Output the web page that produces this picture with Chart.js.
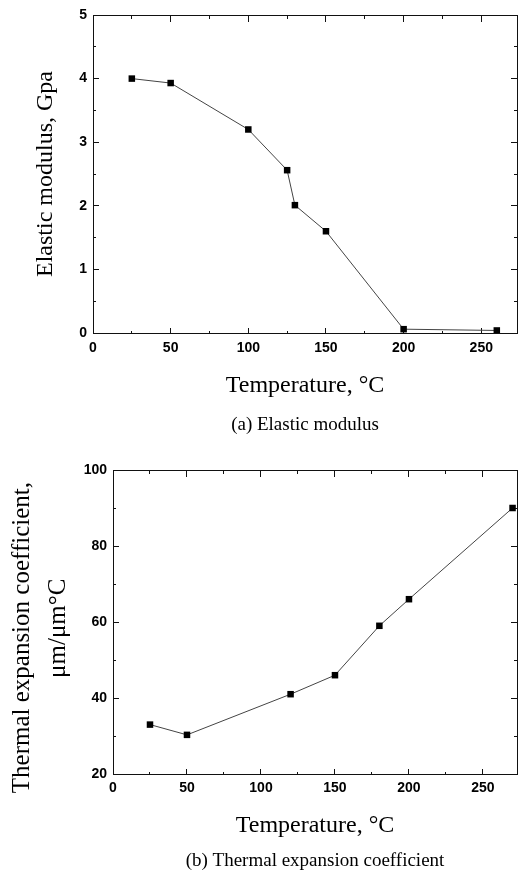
<!DOCTYPE html>
<html>
<head>
<meta charset="utf-8">
<script src="https://cdn.jsdelivr.net/npm/chart.js@4/dist/chart.umd.min.js"></script>
<style>
    html, body { margin: 0; padding: 0; background: #fff; }
    canvas { display: block; }
</style>
</head>
<body>
<canvas id="modulusChart" width="518" height="445"></canvas>
<canvas id="expansionChart" width="518" height="427"></canvas>
<script>
// (a) Elastic modulus vs temperature
const modulusTemps = [25, 50, 100, 125, 130, 150, 200, 260];
const modulusValues = [4.0, 3.93, 3.2, 2.56, 2.01, 1.6, 0.06, 0.04];

// (b) Thermal expansion coefficient vs temperature
const expansionTemps = [25, 50, 120, 150, 180, 200, 270];
const expansionValues = [33, 30.3, 41, 46, 59, 66, 90];

const tempRange = [0, 273];
const modulusRange = [0, 5];
const expansionRange = [20, 100];

const AXIS_COLOR = '#111';
const tickFont = { family: "'Liberation Sans', Arial, sans-serif", size: 14, weight: 'bold' };
const serif = (size, lineHeight) => ({ family: "'Liberation Serif', 'Times New Roman', serif", size, weight: 'normal', lineHeight: lineHeight || 1.2 });

// labels never reach past the plot edges, so drop the side padding chart.js reserves
const noSidePadding = (scale) => { scale.paddingLeft = 0; scale.paddingRight = 0; };

// tick-mark-only axis drawn along one edge of the plot box
function markAxis(axis, position, range, step, length) {
    return {
        type: 'linear',
        axis: axis,
        position: position,
        min: range[0],
        max: range[1],
        ticks: { display: false, stepSize: step, includeBounds: false, padding: 0 },
        grid: { display: true, drawOnChartArea: false, drawTicks: true, tickLength: length, tickColor: AXIS_COLOR, tickWidth: 1 },
        border: { display: true, color: AXIS_COLOR, width: 1 },
        afterFit: noSidePadding
    };
}

function renderChart(canvasId, cfg) {
    const ctx = document.getElementById(canvasId).getContext('2d');
    const points = cfg.xs.map((x, i) => ({ x: x, y: cfg.ys[i] }));

    new Chart(ctx, {
        type: 'scatter',
        data: {
            datasets: [{
                data: points,
                xAxisID: 'x',
                yAxisID: 'y',
                showLine: true,
                borderColor: '#444',
                borderWidth: 1,
                pointStyle: 'rect',
                pointRadius: 4.6,
                pointBackgroundColor: '#000',
                pointBorderWidth: 0
            }]
        },
        options: {
            responsive: false,
            animation: false,
            layout: { padding: cfg.padding, autoPadding: false },
            plugins: {
                legend: { display: false },
                tooltip: { enabled: false },
                title: {
                    display: true,
                    text: cfg.caption,
                    position: 'bottom',
                    fullSize: false,
                    color: '#000',
                    font: serif(19, 1),
                    padding: 0
                }
            },
            scales: {
                x: {
                    type: 'linear',
                    position: 'bottom',
                    min: cfg.xRange[0],
                    max: cfg.xRange[1],
                    ticks: { stepSize: cfg.xStep, includeBounds: false, padding: cfg.xTickPad, color: '#000', font: tickFont, maxRotation: 0 },
                    grid: { display: false, drawTicks: false },
                    border: { display: true, color: AXIS_COLOR, width: 1 },
                    title: { display: true, text: 'Temperature, °C', color: '#000', font: serif(24), padding: { top: 0, bottom: cfg.xTitlePad } },
                    afterFit: (scale) => { noSidePadding(scale); scale.height = cfg.xHeight; }
                },
                y: {
                    type: 'linear',
                    position: 'left',
                    min: cfg.yRange[0],
                    max: cfg.yRange[1],
                    ticks: { stepSize: cfg.yStep, includeBounds: false, padding: 6, color: '#000', font: tickFont },
                    grid: { display: false, drawTicks: false },
                    border: { display: true, color: AXIS_COLOR, width: 1 },
                    title: { display: true, text: cfg.yTitle, color: '#000', font: cfg.yTitleFont, padding: { top: cfg.yTitlePad, bottom: 0 } },
                    afterFit: (scale) => { scale.width = cfg.yWidth; }
                },
                xMinB: markAxis('x', { y: cfg.yRange[0] }, cfg.xRange, cfg.xStep / 2, -3),
                xMajB: markAxis('x', { y: cfg.yRange[0] }, cfg.xRange, cfg.xStep, -6),
                xMinT: markAxis('x', { y: cfg.yRange[1] }, cfg.xRange, cfg.xStep / 2, 3),
                xMajT: markAxis('x', { y: cfg.yRange[1] }, cfg.xRange, cfg.xStep, 6),
                yMinL: markAxis('y', { x: cfg.xRange[0] }, cfg.yRange, cfg.yStep / 2, -3),
                yMajL: markAxis('y', { x: cfg.xRange[0] }, cfg.yRange, cfg.yStep, -6),
                yMinR: markAxis('y', { x: cfg.xRange[1] }, cfg.yRange, cfg.yStep / 2, 3),
                yMajR: markAxis('y', { x: cfg.xRange[1] }, cfg.yRange, cfg.yStep, 6)
            }
        }
    });
}

renderChart('modulusChart', {
    xs: modulusTemps,
    ys: modulusValues,
    xRange: tempRange,
    yRange: modulusRange,
    xStep: 50,
    yStep: 1,
    caption: '(a) Elastic modulus',
    yTitle: 'Elastic modulus, Gpa',
    yTitleFont: serif(24),
    yTitlePad: 31,
    yWidth: 93,
    xHeight: 82.5,
    xTickPad: 7,
    xTitlePad: 15,
    padding: { top: 15, right: 1, bottom: 10.5, left: 0 }
});

// trailing spaces nudge each rotated line to where it sits in the original figure
renderChart('expansionChart', {
    xs: expansionTemps,
    ys: expansionValues,
    xRange: tempRange,
    yRange: expansionRange,
    xStep: 50,
    yStep: 20,
    caption: '(b) Thermal expansion coefficient',
    yTitle: ['Thermal expansion coefficient,     ', 'μm/μm°C  '],
    yTitleFont: serif(25, 1.44),
    yTitlePad: 4,
    yWidth: 113,
    xHeight: 78,
    xTickPad: 6,
    xTitlePad: 12,
    padding: { top: 25, right: 1, bottom: 1, left: 0 }
});
</script>
</body>
</html>
